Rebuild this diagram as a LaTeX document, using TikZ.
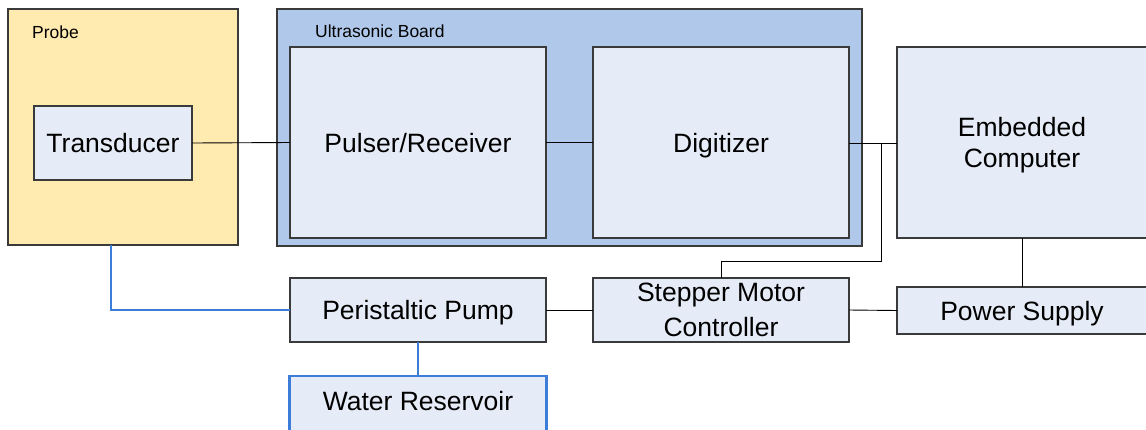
\documentclass[tikz,border=0pt]{standalone}
\usepackage{fontspec}
\setmainfont{Liberation Sans}
\definecolor{probefill}{HTML}{FFEAB0}
\definecolor{boardfill}{HTML}{B0C9EA}
\definecolor{boxfill}{HTML}{E6ECF7}
\definecolor{boxline}{HTML}{3A3A3A}
\definecolor{tube}{HTML}{3C7DD9}
\begin{document}
\begin{tikzpicture}[x=1pt,y=-1pt,
  container/.style={draw=boxline,line width=1.2pt,inner sep=0pt,outer sep=0pt},
  unit/.style={draw=boxline,line width=1.1pt,fill=boxfill,inner sep=0pt,outer sep=0pt,
    font=\fontsize{26.5}{31.5}\selectfont,align=center,text depth=0pt},
  smalllabel/.style={inner sep=0pt,font=\fontsize{17.5}{20}\selectfont},
  wire/.style={draw=black,line width=0.9pt},
  tubeline/.style={draw=tube,line width=2.9pt}]
\useasboundingbox (0,0) rectangle (1146,429);
% containers
\node[container,fill=probefill,minimum width=230pt,minimum height=236pt] (probe) at (123,127) {};
\node[container,fill=boardfill,minimum width=585pt,minimum height=237pt] (board) at (569.5,127.5) {};
\node[smalllabel,anchor=base west] (probelbl) at (32,38) {Probe};
\node[smalllabel,anchor=base west] (boardlbl) at (315,37) {Ultrasonic Board};
% units
\node[unit,minimum width=158pt,minimum height=74pt] (trans) at (113,143) {Transducer};
\node[unit,minimum width=256pt,minimum height=191pt] (puls) at (418,142.5) {Pulser/Receiver};
\node[unit,minimum width=256pt,minimum height=191pt] (dig) at (721,142.5) {Digitizer};
\node[unit,minimum width=250pt,minimum height=191pt] (emb) at (1022,142.5) {Embedded\\Computer};
\node[unit,minimum width=256pt,minimum height=64pt] (pump) at (418,310) {Peristaltic Pump};
\node[unit,minimum width=256pt,minimum height=64pt,font=\fontsize{26.5}{35}\selectfont] (stp) at (721,310) {Stepper Motor\\Controller};
\node[unit,minimum width=250pt,minimum height=47pt] (ps) at (1022,310.5) {Power Supply};
\node[unit,draw=tube,line width=2.9pt,minimum width=257pt,minimum height=56pt,anchor=north,text depth=6pt] (res) at (418,376) {Water Reservoir};
% connectors
\draw[wire] (trans.east) -- (puls.west);
\draw[wire] (puls.east) -- (dig.west);
\coordinate (j1) at (881,143);
\coordinate (j2) at (881,261);
\draw[wire] (dig.east |- j1) -- (emb.west |- j1);
\draw[wire] (stp.north) |- (j2) -- (j1);
\draw[wire] (emb.south) -- (ps.north);
\draw[wire] (stp.east) -- (ps.west);
\draw[wire] (pump.east) -- (stp.west);
\coordinate (pb) at (111,245);
\draw[tubeline] (pb) |- (pump.west);
\draw[tubeline] (pump.south) -- (res.north);
\end{tikzpicture}
\end{document}
